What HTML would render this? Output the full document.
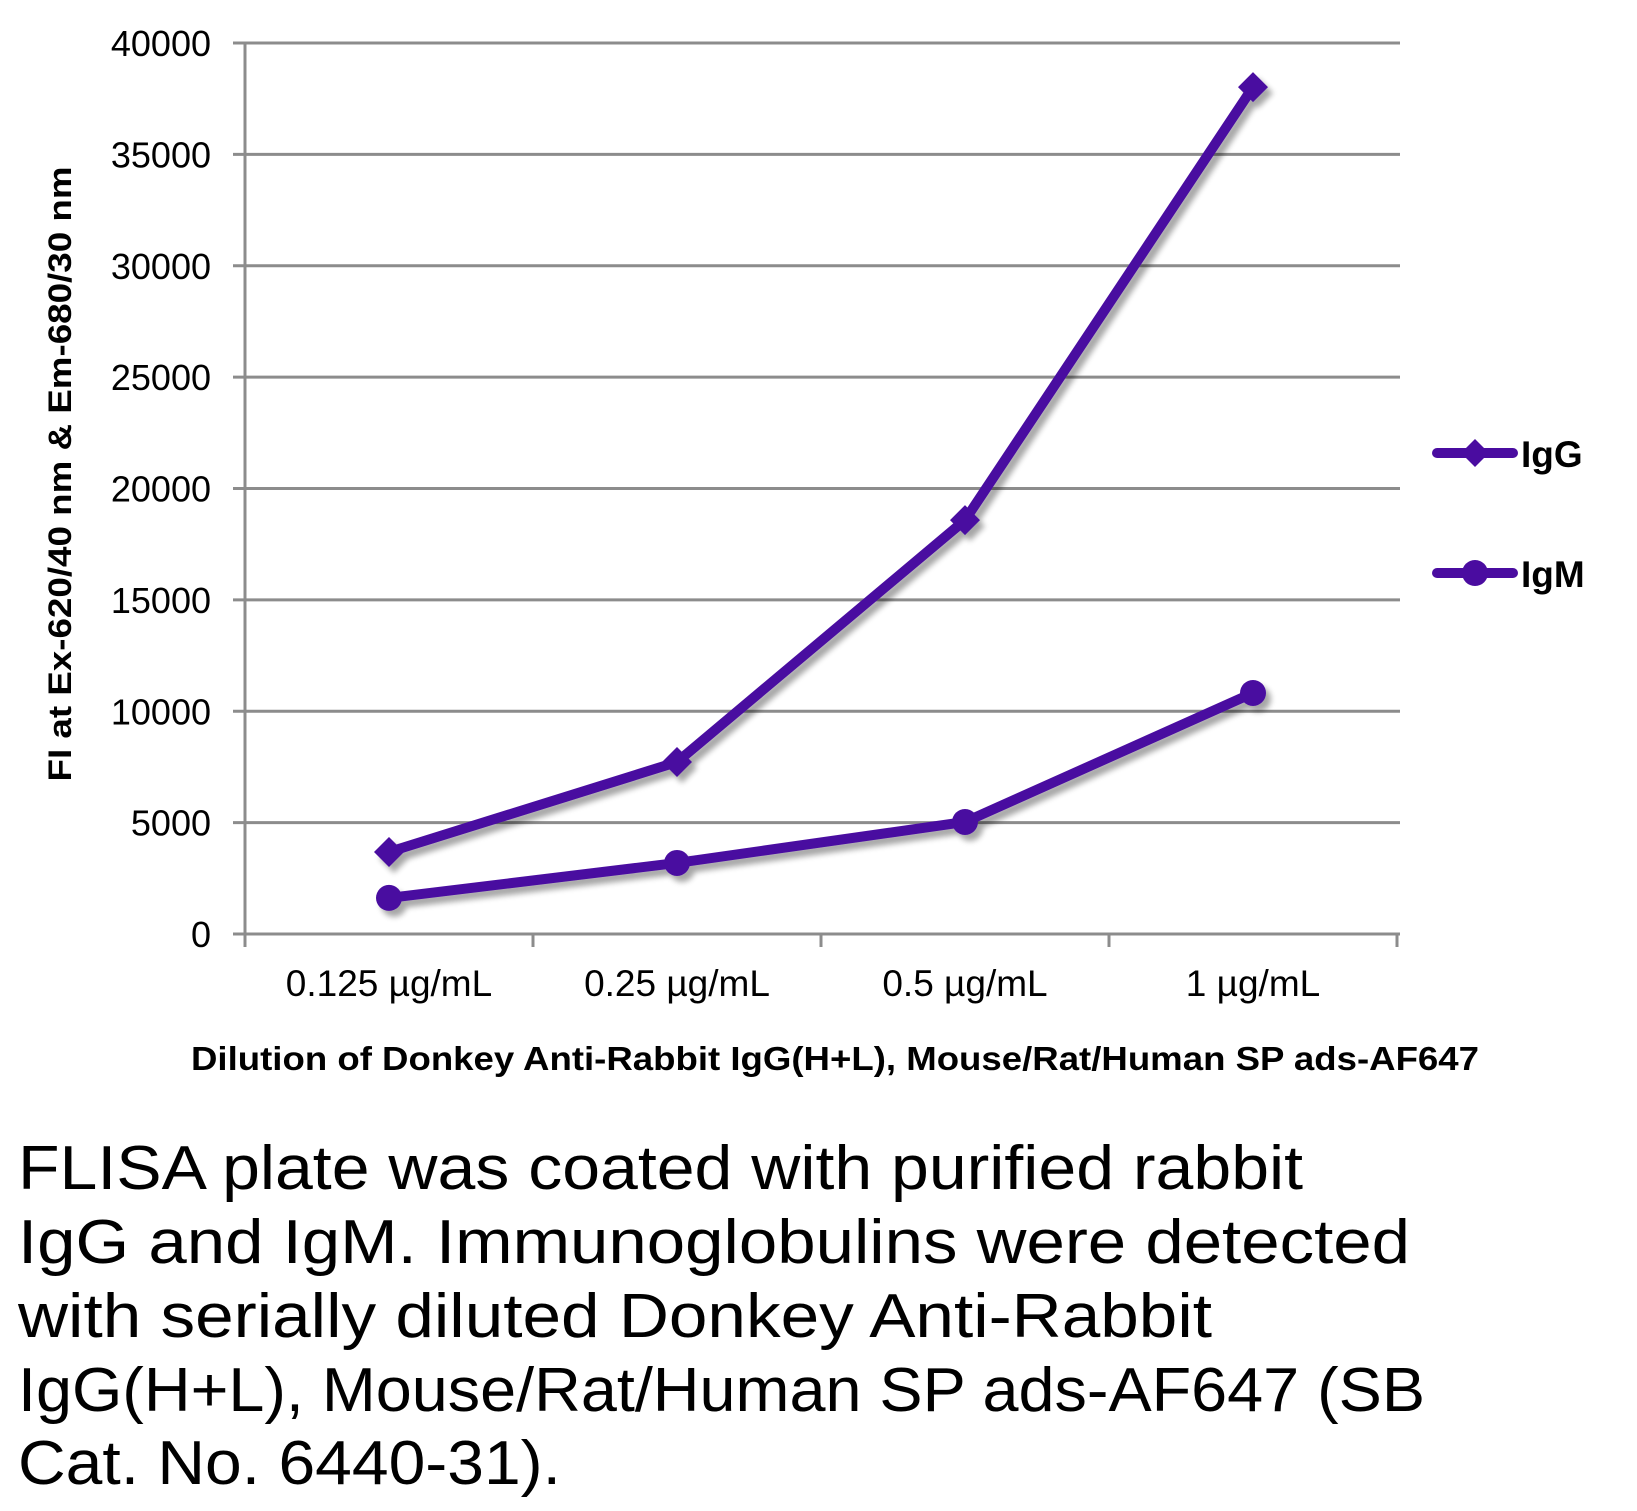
<!DOCTYPE html>
<html><head><meta charset="utf-8"><style>
html,body{margin:0;padding:0;background:#fff;}
svg{display:block;font-family:"Liberation Sans",sans-serif;}
</style></head><body>
<svg id="chart" width="1637" height="1511" viewBox="0 0 1637 1511">
<defs>
<filter id="sh" x="-10%" y="-10%" width="130%" height="130%"><feGaussianBlur in="SourceAlpha" stdDeviation="3"/><feOffset dx="5" dy="6" result="b"/><feComponentTransfer><feFuncA type="linear" slope="0.35"/></feComponentTransfer><feMerge><feMergeNode/><feMergeNode in="SourceGraphic"/></feMerge></filter>
</defs>
<g id="grid"></g>
<g id="yticks"></g>
<g id="xticks"></g>
<g id="series" filter="url(#sh)"></g>
<text transform="translate(71,474) rotate(-90)" text-anchor="middle" font-weight="bold" font-size="32" textLength="615" lengthAdjust="spacingAndGlyphs">FI at Ex-620/40 nm &amp; Em-680/30 nm</text>
<text x="191" y="1070" font-weight="bold" font-size="33" textLength="1288" lengthAdjust="spacingAndGlyphs">Dilution of Donkey Anti-Rabbit IgG(H+L), Mouse/Rat/Human SP ads-AF647</text>
<g>
<g>
<line x1="1437" y1="453" x2="1513" y2="453" stroke="#4a0ca0" stroke-width="10" stroke-linecap="round"/>
<path d="M1475 439 L1489 453 L1475 467 L1461 453Z" fill="#4a0ca0"/>
<text x="1521" y="467" font-size="37" font-weight="bold">IgG</text></g>
<g>
<line x1="1437" y1="573" x2="1513" y2="573" stroke="#4a0ca0" stroke-width="10" stroke-linecap="round"/>
<circle cx="1475" cy="573" r="13" fill="#4a0ca0"/>
<text x="1521" y="587" font-size="37" font-weight="bold">IgM</text></g>
</g>
<g font-size="62">
<text x="18" y="1189" textLength="1285" lengthAdjust="spacingAndGlyphs">FLISA plate was coated with purified rabbit</text>
<text x="18" y="1263" textLength="1392" lengthAdjust="spacingAndGlyphs">IgG and IgM.  Immunoglobulins were detected</text>
<text x="18" y="1337" textLength="1194" lengthAdjust="spacingAndGlyphs">with serially diluted Donkey Anti-Rabbit</text>
<text x="18" y="1411" textLength="1407" lengthAdjust="spacingAndGlyphs">IgG(H+L), Mouse/Rat/Human SP ads-AF647 (SB</text>
<text x="18" y="1484" textLength="543" lengthAdjust="spacingAndGlyphs">Cat. No. 6440-31).</text>
</g>
</svg>
<script>
const categories = ["0.125 µg/mL","0.25 µg/mL","0.5 µg/mL","1 µg/mL"];
const iggValues = [3680, 7720, 18580, 38020];
const igmValues = [1620, 3190, 5030, 10820];
const yTicks = [0,5000,10000,15000,20000,25000,30000,35000,40000];
const NS="http://www.w3.org/2000/svg";
const X0=245, X1=1397, Y0=934, Y1=43, YMAX=40000;
const bw=(X1-X0)/categories.length;
function xs(i){return X0+bw*(i+0.5);}
function ys(v){return Y0-(v/YMAX)*(Y0-Y1);}
function mk(tag,attrs,parent){const e=document.createElementNS(NS,tag);for(const k in attrs)e.setAttribute(k,attrs[k]);parent.appendChild(e);return e;}
const grid=document.getElementById('grid'),yt=document.getElementById('yticks'),xt=document.getElementById('xticks'),ser=document.getElementById('series');
yTicks.forEach(v=>{
  const l=mk('line',{x1:233,x2:1400,y1:ys(v),y2:ys(v),stroke:'#8c8c8c','stroke-width':3},grid);
  
  
  const t=mk('text',{x:211,y:ys(v)+13,'text-anchor':'end','font-size':36},yt);
  t.textContent=v;
  
  
});
const ax=mk('line',{x1:X0,x2:X0,y1:Y1,y2:Y0+12,stroke:'#8c8c8c','stroke-width':3},grid);


for(let i=0;i<=categories.length;i++){
  const tk=mk('line',{x1:X0+bw*i,x2:X0+bw*i,y1:Y0,y2:Y0+13,stroke:'#8c8c8c','stroke-width':3},grid);
  
  
}
categories.forEach((c,i)=>{
  const t=mk('text',{x:xs(i),y:996,'text-anchor':'middle','font-size':37},xt);
  t.textContent=c;
  
  
});
function drawSeries(vals,name,marker){
  const pts=vals.map((v,i)=>xs(i)+','+ys(v)).join(' ');
  const pl=mk('polyline',{points:pts,fill:'none',stroke:'#4a0ca0','stroke-width':10,'stroke-linejoin':'round'},ser);
  
  
  vals.forEach((v,i)=>{
    const x=xs(i),y=ys(v);let m;
    if(marker==='diamond') m=mk('path',{d:`M${x} ${y-15}L${x+15} ${y}L${x} ${y+15}L${x-15} ${y}Z`,fill:'#4a0ca0'},ser);
    else m=mk('circle',{cx:x,cy:y,r:13,fill:'#4a0ca0'},ser);
    
    
  });
}
drawSeries(iggValues,'igg','diamond');
drawSeries(igmValues,'igm','circle');
</script>
</body></html>
